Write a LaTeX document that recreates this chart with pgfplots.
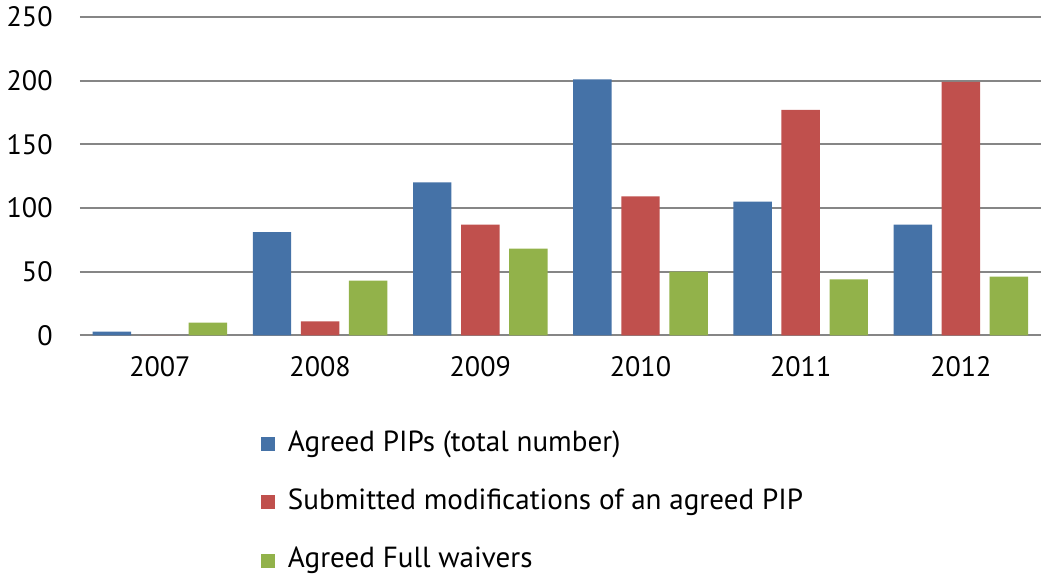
\documentclass[border=0pt]{standalone}
\usepackage{fontspec}
\setmainfont{PT Sans}
\usepackage{pgfplots}
\pgfplotsset{compat=1.18}

\definecolor{pipblue}{HTML}{4572A7}
\definecolor{pipred}{HTML}{C0504D}
\definecolor{pipgreen}{HTML}{92B24A}
\definecolor{gridgray}{HTML}{868686}

\begin{document}
\begin{tikzpicture}
\begin{axis}[
  scale only axis,
  width=479pt, height=158.7pt,
  xmin=-0.5, xmax=5.5,
  ymin=0, ymax=250,
  xtick={0,1,2,3,4,5},
  xticklabels={2007,2008,2009,2010,2011,2012},
  ytick={0,50,100,150,200,250},
  ymajorgrids,
  major grid style={gridgray, line width=1pt},
  axis lines*=left,
  y axis line style={draw=none},
  x axis line style={gridgray, line width=1pt, -},
  major tick length=0pt,
  tick style={draw=none},
  ticklabel style={font=\fontsize{14}{16}\selectfont},
  yticklabel style={xshift=-10pt},
  xticklabel style={yshift=-7pt},
  /pgf/number format/assume math mode=true,
  bar width=0.24,
  ybar,
  legend style={
    at={(0.188,-0.29)}, anchor=north west,
    draw=none, fill=none, inner sep=0pt,
    font=\fontsize{14.5}{16}\selectfont,
    row sep=13pt,
    nodes={inner sep=1pt, text height=10.5pt, text depth=3.5pt},
    /tikz/every odd column/.append style={column sep=5.5pt},
  },
  legend cell align=left,
  legend image code/.code={\fill[#1] (0pt,-3.5pt) rectangle (7pt,3.5pt);},
]
\addplot[fill=pipblue, draw=none, bar shift=-0.30] coordinates
  {(0,3) (1,81) (2,120) (3,201) (4,105) (5,87)};
\addplot[fill=pipred, draw=none, bar shift=0] coordinates
  {(0,0) (1,11) (2,87) (3,109) (4,177) (5,199)};
\addplot[fill=pipgreen, draw=none, bar shift=0.30] coordinates
  {(0,10) (1,43) (2,68) (3,50) (4,44) (5,46)};
\legend{Agreed PIPs (total number), Submitted modifications of an agreed PIP, Agreed Full waivers}
\end{axis}
\end{tikzpicture}
\end{document}
